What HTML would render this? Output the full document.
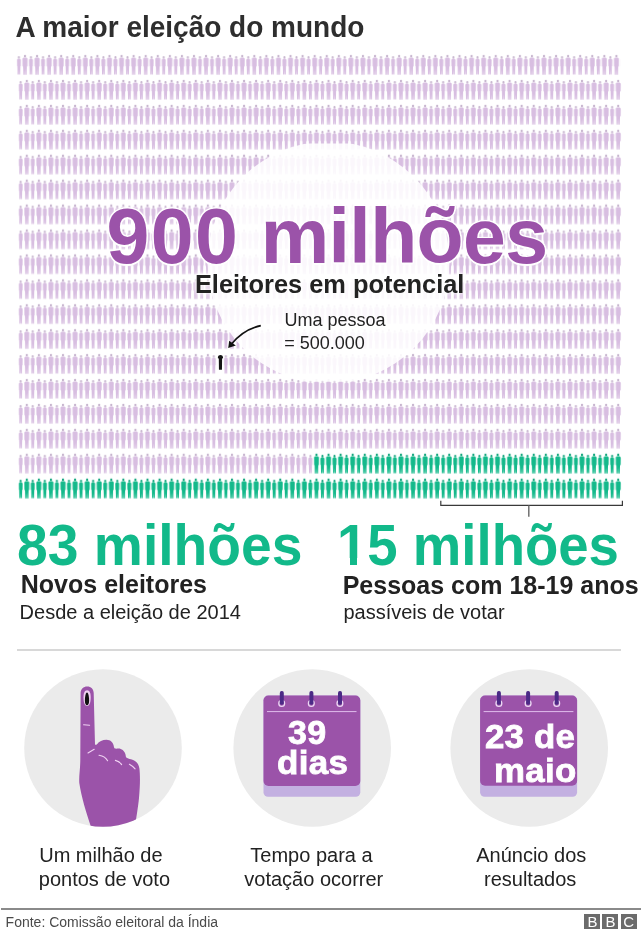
<!DOCTYPE html>
<html lang="pt">
<head>
<meta charset="utf-8">
<title>A maior eleição do mundo</title>
<style>
html,body{margin:0;padding:0;background:#fff;}
body{width:641px;height:934px;position:relative;overflow:hidden;font-family:"Liberation Sans",Arial,Helvetica,sans-serif;color:#222;}
.a{position:absolute;white-space:nowrap;}
svg{position:absolute;left:0;top:0;}
#title{left:15.4px;top:13.3px;font-size:28px;line-height:28px;font-weight:bold;color:#2e2e2e;transform:scaleY(1.055);transform-origin:0 3.4px;}
#big{left:106.4px;top:198.1px;font-size:77px;line-height:77px;font-weight:bold;color:#9b53a9;
  text-shadow:1.5px 0 0 #fff,-1.5px 0 0 #fff,0 1.5px 0 #fff,0 -1.5px 0 #fff,1px 1px 0 #fff,-1px -1px 0 #fff,1px -1px 0 #fff,-1px 1px 0 #fff,0 0 4px rgba(255,255,255,.9);}
#big2{left:260.7px;top:198.1px;font-size:77px;line-height:77px;font-weight:bold;color:#9b53a9;letter-spacing:-0.6px;
  text-shadow:1.5px 0 0 #fff,-1.5px 0 0 #fff,0 1.5px 0 #fff,0 -1.5px 0 #fff,1px 1px 0 #fff,-1px -1px 0 #fff,1px -1px 0 #fff,-1px 1px 0 #fff,0 0 4px rgba(255,255,255,.9);}
#sub{left:194.9px;top:271.8px;font-size:25.4px;line-height:25.4px;font-weight:bold;color:#222;
  text-shadow:0 0 2px #fff,0 0 4px #fff,0 0 6px #fff;}
#uma{left:284.5px;top:311.2px;font-size:18px;line-height:18px;color:#222;}
#uma2{left:284.2px;top:333.5px;font-size:18px;line-height:18px;color:#222;}
.g{color:#12b98a;font-weight:bold;font-size:55px;line-height:55px;}
.h{font-weight:bold;font-size:25px;line-height:25px;color:#222;}
.p{font-size:20px;line-height:20px;color:#222;}
.c{font-size:20px;line-height:20px;color:#222;}
.cal{font-weight:bold;font-size:33px;line-height:33px;color:#fff;-webkit-text-stroke:0.8px #fff;}
#rule{position:absolute;left:17px;top:649px;width:604px;height:2px;background:#d8d8d8;}
#frule{position:absolute;left:1px;top:908.4px;width:640px;height:1.3px;background:#8a8a8a;}
#fonte{left:5.6px;top:914.6px;font-size:14px;line-height:14px;color:#4a4a4a;}
.bbc{position:absolute;top:913.8px;width:16px;height:15px;background:#6b6b6b;color:#fff;font-weight:normal;font-size:15px;line-height:15.5px;text-align:center;}
</style>
</head>
<body>
<div id="title" class="a">A maior eleição do mundo</div>

<svg width="641" height="530" viewBox="0 0 641 530">
  <defs>
    <path id="fb" d="M0.3 6.9 Q0.35 5.6 1.6 5.45 L3.0 5.45 Q4.25 5.6 4.3 6.9 L4.2 13.0 L3.85 13.2 L3.6 21.4 L2.5 21.4 L2.3 16.5 L2.1 21.4 L1.0 21.4 L0.75 13.2 L0.4 13.0 Z M5.9 5.8 Q5.95 4.6 7.2 4.5 L9.6 4.5 Q10.85 4.6 10.9 5.8 L10.8 13.2 L10.25 13.4 L9.95 21.8 L8.7 21.8 L8.4 16 L8.1 21.8 L6.85 21.8 L6.55 13.4 L6.0 13.2 Z"/>
    <path id="fh" d="M1.25 4.2 A1.05 1.2 0 1 0 3.35 4.2 A1.05 1.2 0 1 0 1.25 4.2 Z M7.25 3.0 A1.15 1.3 0 1 0 9.55 3.0 A1.15 1.3 0 1 0 7.25 3.0 Z"/>
    <pattern id="p0" x="16.6" y="53.1" width="12.07" height="24.92" patternUnits="userSpaceOnUse">
      <use href="#fb" fill="#d8bee1"/><use href="#fh" fill="#c8b6cf"/>
    </pattern>
    <pattern id="p1" x="18.4" y="53.1" width="12.07" height="24.92" patternUnits="userSpaceOnUse">
      <use href="#fb" fill="#d8bee1"/><use href="#fh" fill="#c8b6cf"/>
    </pattern>
    <pattern id="pg" x="18.4" y="53.1" width="12.07" height="24.92" patternUnits="userSpaceOnUse">
      <use href="#fb" fill="#14b98b"/><use href="#fh" fill="#13a77e"/>
    </pattern>
    
  </defs>
  <rect x="16.6" y="53" width="603.5" height="24.92" fill="url(#p0)"/>
  <rect x="18.4" y="77.92" width="603.5" height="373.8" fill="url(#p1)"/>
  <rect x="18.4" y="451.72" width="295.2" height="24.92" fill="url(#p1)"/>
  <rect x="313.6" y="451.72" width="308.3" height="24.92" fill="url(#pg)"/>
  <rect x="18.4" y="476.64" width="603.5" height="24.92" fill="url(#pg)"/>
  <clipPath id="cc"><rect x="200" y="143.6" width="260" height="237.9"/></clipPath>
  <circle cx="328.5" cy="262.5" r="121" fill="#fff" fill-opacity="0.88" clip-path="url(#cc)"/>
  <!-- bracket -->
  <path d="M440.8 500.8 V505.4 H622.4 V500.8" fill="none" stroke="#3a3a3a" stroke-width="1.2"/>
  <path d="M528.8 505.4 V516.8" fill="none" stroke="#707070" stroke-width="1.5"/>
  <!-- arrow -->
  <path d="M260.8 325.6 C250 328, 239 335, 231.5 344" fill="none" stroke="#111" stroke-width="1.6"/>
  <path d="M228.2 348 L229.2 340.8 L235.8 345.6 Z" fill="#111"/>
  <!-- black person -->
  <rect x="217" y="352.5" width="6.7" height="23" fill="#fff"/>
  <path fill="#151515" d="M217.9 357.6 C217.9 355.9 219.2 355.1 220.45 355.1 C221.7 355.1 223 355.9 223 357.6 L223 358.3 L222.1 358.5 L221.95 369.8 L218.95 369.8 L218.8 358.5 L217.9 358.3 Z"/>
</svg>

<div id="big" class="a"><span style="letter-spacing:1.5px">900</span> </div>
<div id="big2" class="a">milhões</div>
<div id="sub" class="a">Eleitores em potencial</div>
<div id="uma" class="a">Uma pessoa</div>
<div id="uma2" class="a">= 500.000</div>

<div class="a g" style="left:16.6px;top:516.8px;font-size:57px;line-height:57px;transform:scaleX(0.969);transform-origin:0 0;">83 milhões</div>
<div class="a h" style="left:20.8px;top:571.6px;">Novos eleitores</div>
<div class="a p" style="left:19.6px;top:601.9px;">Desde a eleição de 2014</div>

<div class="a g" style="left:337px;top:516.8px;font-size:57px;line-height:57px;transform:scaleX(0.957);transform-origin:0 0;">15 milhões</div>
<div style="position:absolute;left:339.3px;top:558.4px;width:10.7px;height:7px;background:#fff;"></div>
<div style="position:absolute;left:357.3px;top:558.4px;width:10px;height:7px;background:#fff;"></div>
<div class="a h" style="left:342.7px;top:572.6px;">Pessoas com 18-19 anos</div>
<div class="a p" style="left:343.4px;top:601.9px;">passíveis de votar</div>

<div id="rule"></div>

<svg width="641" height="934" viewBox="0 0 641 934" style="top:0;left:0;">
  <defs>
    <clipPath id="c1"><circle cx="103" cy="748" r="78.8"/></clipPath>
  </defs>
  <circle cx="103" cy="748" r="78.8" fill="#ebebeb"/>
  <circle cx="312.2" cy="748" r="78.8" fill="#ebebeb"/>
  <circle cx="529.2" cy="748" r="78.8" fill="#ebebeb"/>
  <!-- hand -->
  <g clip-path="url(#c1)">
    <path fill="#9b53a9" d="M80.6 693 C80.6 689, 83.5 686.4, 87.2 686.4 C91 686.4, 93.7 689, 93.7 693
      L95 744.5 C95.5 745, 96.2 745, 97 744.2 C99 741.5, 102.5 739.8, 106.5 739.8 C110.5 739.8, 113.5 742.5, 114 747.3
      C114.5 749.2, 116.5 748.6, 118.5 748.6 C121.5 748.6, 124.5 750.8, 125.5 754.5 L126 757.2
      C127.5 758.2, 129 758.8, 131 759.2 C135.5 760.2, 138.7 763.5, 139.4 768.5
      C140.2 775, 140.2 785, 139 798 C138 808, 136.5 816, 134.5 830 L92 830
      C87 815, 81.5 798, 79.3 783 C78.8 776, 80.2 770, 80.3 760 Z"/>
    <g fill="none" stroke="#f0d2f3" stroke-width="1.1" stroke-linecap="round">
      <path d="M83.6 724.8 L89.6 725.2"/>
      <path d="M88 752.9 L94.2 749.3"/>
      <path d="M99 755.2 C102.5 755.8, 106 757.5, 107.6 760.8"/>
      <path d="M115.4 760.4 C118 761, 120.3 762.6, 121.6 764.6"/>
      <path d="M129.4 764.2 C131.8 765.4, 133.6 767, 135.1 768.9"/>
    </g>
    <path fill="#f0d0f2" d="M87.1 690.2 C89.6 690.2 90.7 693 90.7 697.5 C90.7 702.5 89.3 706 87.1 706 C84.9 706 83.5 702.5 83.5 697.5 C83.5 693 84.6 690.2 87.1 690.2 Z"/>
    <path fill="#111" d="M87 692.6 C88.4 692.6 89.1 697 89.1 700.8 C89.1 703.8 88.2 705.2 87 705.2 C85.8 705.2 84.9 703.8 84.9 700.8 C84.9 697 85.6 692.6 87 692.6 Z"/>
  </g>
  <!-- calendar 2 -->
  <g>
    <rect x="263.5" y="695.6" width="96.8" height="101.1" rx="4.5" fill="#c3b0e1"/>
    <rect x="263.5" y="695.6" width="96.8" height="90.4" rx="5" fill="#9b53a9"/>
    <rect x="267" y="711" width="89.5" height="1.1" fill="#d9b3e6"/>
    <g fill="none" stroke="#ecd9f4" stroke-width="1.3">
      <ellipse cx="281.7" cy="703.4" rx="2.9" ry="2.9"/>
      <ellipse cx="311.3" cy="703.4" rx="2.9" ry="2.9"/>
      <ellipse cx="339.9" cy="703.4" rx="2.9" ry="2.9"/>
    </g>
    <g fill="#4b2a86">
      <rect x="279.8" y="691.1" width="4" height="13.6" rx="1.8"/>
      <rect x="309.4" y="691.1" width="4" height="13.6" rx="1.8"/>
      <rect x="338" y="691.1" width="4" height="13.6" rx="1.8"/>
    </g>
  </g>
  <!-- calendar 3 -->
  <g>
    <rect x="480.1" y="695.6" width="97" height="101.1" rx="4.5" fill="#c3b0e1"/>
    <rect x="480.1" y="695.6" width="97" height="90.2" rx="5" fill="#9b53a9"/>
    <rect x="483.6" y="711" width="89.8" height="1.1" fill="#d9b3e6"/>
    <g fill="none" stroke="#ecd9f4" stroke-width="1.3">
      <ellipse cx="498.9" cy="703.4" rx="2.9" ry="2.9"/>
      <ellipse cx="528.1" cy="703.4" rx="2.9" ry="2.9"/>
      <ellipse cx="556.7" cy="703.4" rx="2.9" ry="2.9"/>
    </g>
    <g fill="#4b2a86">
      <rect x="496.9" y="691.1" width="4" height="13.6" rx="1.8"/>
      <rect x="526.1" y="691.1" width="4" height="13.6" rx="1.8"/>
      <rect x="554.7" y="691.1" width="4" height="13.6" rx="1.8"/>
    </g>
  </g>
</svg>

<div class="a cal" style="left:288.4px;top:715.6px;letter-spacing:0.3px;transform:scaleX(1.03);transform-origin:0 0;">39</div>
<div class="a cal" style="left:277.2px;top:746px;letter-spacing:0.3px;transform:scaleX(1.06);transform-origin:0 0;">dias</div>
<div class="a cal" style="left:485.1px;top:719.7px;letter-spacing:0.2px;transform:scaleX(1.055);transform-origin:0 0;">23 de</div>
<div class="a cal" style="left:494.1px;top:753.7px;letter-spacing:0.3px;transform:scaleX(1.055);transform-origin:0 0;">maio</div>

<div class="a c" style="left:39.2px;top:844.6px;">Um milhão de</div>
<div class="a c" style="left:38.8px;top:868.7px;">pontos de voto</div>
<div class="a c" style="left:250.3px;top:844.6px;">Tempo para a</div>
<div class="a c" style="left:244.3px;top:868.7px;">votação ocorrer</div>
<div class="a c" style="left:476.2px;top:844.6px;">Anúncio dos</div>
<div class="a c" style="left:484px;top:868.7px;">resultados</div>

<div id="frule"></div>
<div id="fonte" class="a">Fonte: Comissão eleitoral da Índia</div>
<div class="bbc" style="left:584.4px;">B</div>
<div class="bbc" style="left:602.4px;">B</div>
<div class="bbc" style="left:620.6px;">C</div>
</body>
</html>
